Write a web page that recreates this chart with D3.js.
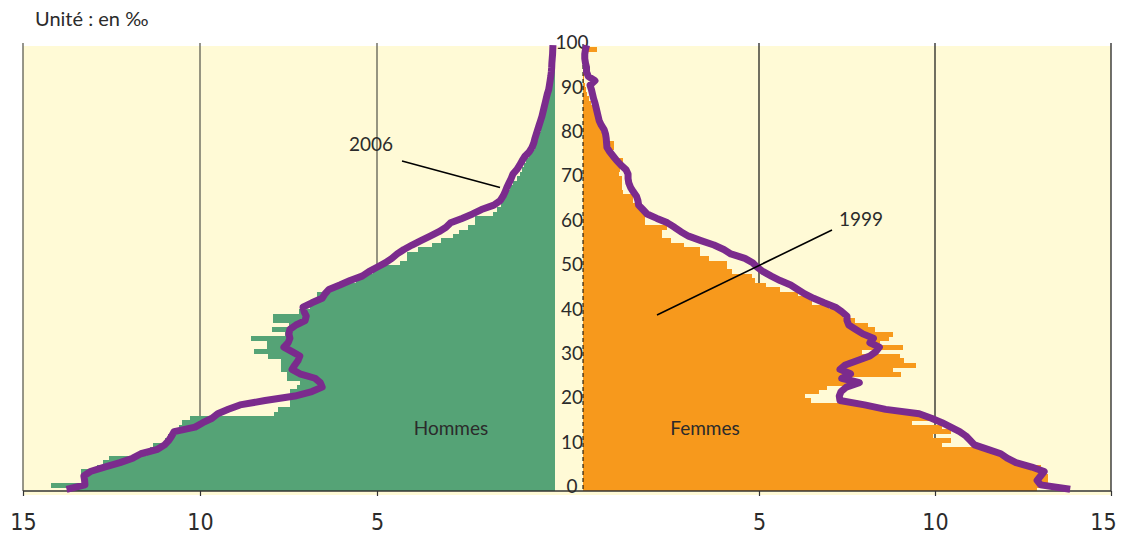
<!DOCTYPE html>
<html><head><meta charset="utf-8">
<script src="https://cdn.jsdelivr.net/npm/d3@7"></script>
<style>
body{margin:0;background:#fff;}
svg{display:block;}
</style></head><body>
<svg id="c" width="1121" height="536"></svg>
<script>
// ---------- DATA (‰, index = age in years) ----------
const ages = d3.range(0, 101);
const ageTicks = [0, 10, 20, 30, 40, 50, 60, 70, 80, 90, 100];
const leftTicks = [15, 10, 5];
const rightTicks = [5, 10, 15];
const title = "Unité : en ‰";
const sexLabels = ["Hommes", "Femmes"];
const yearLabels = ["2006", "1999"];

const hommes1999 = [
 13.6,14.2,13.2,13.25,13.35,12.9,12.74,12.57,11.5,11.4,
 11.33,11.0,10.9,10.8,10.6,10.5,10.28,7.9,7.8,7.45,
 7.45,7.35,7.45,7.25,7.18,7.54,7.54,7.7,7.7,7.7,
 8.08,8.47,8.1,8.1,8.56,7.6,7.97,7.5,7.95,7.95,
 7.2,6.9,6.8,6.6,6.7,6.3,6.05,5.6,5.45,5.1,
 4.9,4.35,4.15,4.15,3.84,3.46,3.2,2.85,2.68,2.43,
 2.23,2.23,1.72,1.6,1.5,1.45,1.4,1.34,1.25,1.15,
 1.05,0.96,0.9,0.85,0.78,0.7,0.62,0.55,0.5,0.46,
 0.42,0.38,0.33,0.3,0.27,0.24,0.2,0.17,0.14,0.11,
 0.08,0.05,0.04,0.03,0.02,0.02,0.01,0.01,0.01,0,0
];
const femmes1999 = [
 12.9,13.0,13.2,13.2,13.1,13.0,12.36,12.1,11.85,11.45,
 10.2,10.45,9.93,10.45,10.2,9.34,10.0,9.3,8.7,7.9,
 6.47,6.3,6.7,6.94,7.6,7.6,9.03,8.8,9.46,9.12,
 9.0,7.94,9.08,8.45,8.68,8.82,8.3,8.1,7.72,7.4,
 7.3,7.0,6.5,6.45,6.1,5.6,5.2,4.9,4.8,4.24,
 4.09,4.09,3.57,3.33,3.33,2.86,2.5,2.24,2.24,2.38,
 1.77,1.77,1.77,1.67,1.67,1.43,1.43,1.14,1.1,1.1,
 1.1,1.03,1.05,1.05,1.14,0.83,0.83,0.89,0.89,0.63,
 0.63,0.5,0.45,0.42,0.38,0.33,0.28,0.22,0.17,0.12,
 0.08,0.05,0.03,0.02,0.02,0.01,0.01,0.01,0,0.4,0
];
const hommes2006 = [
 13.77,13.25,13.26,13.28,13.1,12.7,12.26,11.9,11.67,11.2,
 11.0,10.88,10.8,10.73,10.14,9.92,9.66,9.5,9.2,8.87,
 8.16,7.32,6.84,6.55,6.6,6.75,7.18,7.4,7.32,7.23,
 7.18,7.4,7.63,7.51,7.46,7.49,7.46,7.29,7.03,7.0,
 7.06,7.09,6.84,6.55,6.47,6.36,6.05,5.76,5.42,5.23,
 5.0,4.77,4.58,4.43,4.24,4.01,3.76,3.5,3.25,3.05,
 2.92,2.6,2.3,2.05,1.7,1.52,1.44,1.38,1.33,1.27,
 1.21,1.16,1.05,0.97,0.9,0.82,0.7,0.62,0.57,0.54,
 0.5,0.46,0.42,0.38,0.34,0.31,0.28,0.25,0.22,0.19,
 0.15,0.13,0.11,0.09,0.075,0.065,0.06,0.05,0.04,0.035,0.03
];
const femmes2006 = [
 13.84,13.0,12.9,13.0,13.1,12.75,12.3,12.05,11.87,11.5,
 11.12,11.0,10.88,10.7,10.45,10.2,9.9,9.55,8.6,8.0,
 7.3,7.28,7.33,7.48,7.85,7.35,7.6,7.3,7.45,7.8,
 8.15,8.32,8.42,8.15,8.25,7.95,7.75,7.55,7.5,7.5,
 7.35,7.17,6.85,6.55,6.3,6.1,5.9,5.6,5.35,5.12,
 4.95,4.82,4.6,4.2,4.0,3.72,3.35,3.0,2.78,2.6,
 2.4,2.1,1.82,1.7,1.58,1.56,1.52,1.43,1.35,1.3,
 1.28,1.28,1.22,1.08,0.96,0.86,0.76,0.68,0.67,0.66,
 0.64,0.6,0.52,0.46,0.43,0.4,0.37,0.34,0.3,0.27,
 0.24,0.2,0.34,0.15,0.1,0.1,0.07,0.05,0.05,0.07,0.1
];

// ---------- STYLE ----------
const C = {
  bg: "#FFFAD6", green: "#55A376", orange: "#F7991C", purple: "#7B2B8D",
  text: "#2b2b2b", gridL: "#5e5e52", gridR: "#111"
};
const FONT = "Lato, 'Open Sans', sans-serif";
const NARROW = "'Liberation Sans Narrow', 'DejaVu Sans Condensed', 'Roboto', sans-serif";

const svg = d3.select("#c");
const y = d3.scaleBand().domain(ages).range([491.5, 43]);
const bw = y.bandwidth();
const yc = a => y(a) + bw / 2;
const xL = d3.scaleLinear().domain([0, 15]).range([554, 23]);
const xR = d3.scaleLinear().domain([0, 15]).range([583, 1111]);
const axisY = 491;

// background
svg.append("rect").attr("x", xL(15)).attr("y", 46)
  .attr("width", xR(15) - xL(15)).attr("height", 449).attr("fill", C.bg);

// gridlines
svg.append("g").selectAll("line").data(leftTicks).join("line")
  .attr("x1", d => xL(d)).attr("x2", d => xL(d)).attr("y1", 43).attr("y2", axisY)
  .attr("stroke", C.gridL).attr("stroke-width", 1.3);
svg.append("g").selectAll("line").data(rightTicks).join("line")
  .attr("x1", d => xR(d)).attr("x2", d => xR(d)).attr("y1", 43).attr("y2", axisY)
  .attr("stroke", C.gridR).attr("stroke-width", 1.2);

// bars (crisp edges to avoid hairline gaps between one-year bands)
const men = ages.map(a => ({a, v: hommes1999[a]}));
const women = ages.map(a => ({a, v: femmes1999[a]}));
svg.append("g").attr("shape-rendering", "crispEdges")
  .selectAll("rect").data(men.filter(d => d.v > 0)).join("rect")
  .attr("x", d => xL(d.v)).attr("width", d => xL(0) - xL(d.v) + 1)
  .attr("y", d => y(d.a)).attr("height", d => Math.min(bw + 0.6, axisY - y(d.a)))
  .attr("fill", C.green);
svg.append("g").attr("shape-rendering", "crispEdges")
  .selectAll("rect").data(women.filter(d => d.v > 0)).join("rect")
  .attr("x", xR(0)).attr("width", d => xR(d.v) - xR(0))
  .attr("y", d => y(d.a)).attr("height", d => Math.min(bw + 0.6, axisY - y(d.a)))
  .attr("fill", C.orange);

// center dashed axis
svg.append("line").attr("x1", xR(0)).attr("x2", xR(0)).attr("y1", 44).attr("y2", axisY)
  .attr("stroke", "#000").attr("stroke-width", 1).attr("stroke-dasharray", "4,3");

// bottom axes
const gL = svg.append("g").attr("transform", `translate(0,${axisY})`)
  .call(d3.axisBottom(xL).tickValues(leftTicks).tickSize(5).tickPadding(18).tickFormat(d3.format("d")));
const gR = svg.append("g").attr("transform", `translate(0,${axisY})`)
  .call(d3.axisBottom(xR).tickValues(rightTicks).tickSize(5).tickPadding(18).tickFormat(d3.format("d")));
[gL, gR].forEach(g => {
  g.select(".domain").remove();
  g.selectAll(".tick line").attr("stroke", "#333").attr("stroke-width", 1.2);
  g.selectAll(".tick text").attr("font-family", NARROW).attr("font-size", 23).attr("fill", C.text);
});
gR.selectAll(".tick text").filter(d => d === 15).attr("dx", -8);
svg.append("line").attr("x1", xL(15)).attr("x2", xR(15)).attr("y1", axisY).attr("y2", axisY)
  .attr("stroke", "#333").attr("stroke-width", 1.5);

// age labels
svg.append("g").selectAll("text").data(ageTicks).join("text")
  .attr("x", 572).attr("y", d => yc(d) - 3.5)
  .attr("text-anchor", "middle").attr("dominant-baseline", "central")
  .attr("font-family", FONT).attr("font-size", 19).attr("fill", C.text)
  .text(d => d);

// 2006 lines
const lineL = d3.line().x(d => xL(d.v)).y(d => yc(d.a)).curve(d3.curveLinear);
const lineR = d3.line().x(d => xR(d.v)).y(d => yc(d.a)).curve(d3.curveLinear);
svg.append("path").datum(ages.map(a => ({a, v: hommes2006[a]})))
  .attr("d", lineL).attr("fill", "none").attr("stroke", C.purple)
  .attr("stroke-width", 7).attr("stroke-linejoin", "round");
svg.append("path").datum(ages.map(a => ({a, v: femmes2006[a]})))
  .attr("d", lineR).attr("fill", "none").attr("stroke", C.purple)
  .attr("stroke-width", 7).attr("stroke-linejoin", "round");

// annotations
svg.append("line").attr("x1", 402).attr("y1", 161).attr("x2", 500).attr("y2", 187.5)
  .attr("stroke", "#000").attr("stroke-width", 1.6);
svg.append("line").attr("x1", 832).attr("y1", 230).attr("x2", 657).attr("y2", 315)
  .attr("stroke", "#000").attr("stroke-width", 1.6);

const txt = (s, x, yy, size, anchor) => svg.append("text").attr("x", x).attr("y", yy)
  .attr("text-anchor", anchor || "start").attr("dominant-baseline", "central")
  .attr("font-family", FONT).attr("font-size", size).attr("fill", C.text).text(s);
txt(title, 35, 18, 20);
txt(yearLabels[0], 349, 143, 19);
txt(yearLabels[1], 839, 218, 19);
txt(sexLabels[0], 451, 427, 19, "middle");
txt(sexLabels[1], 705, 427, 19, "middle");
</script>
</body></html>
